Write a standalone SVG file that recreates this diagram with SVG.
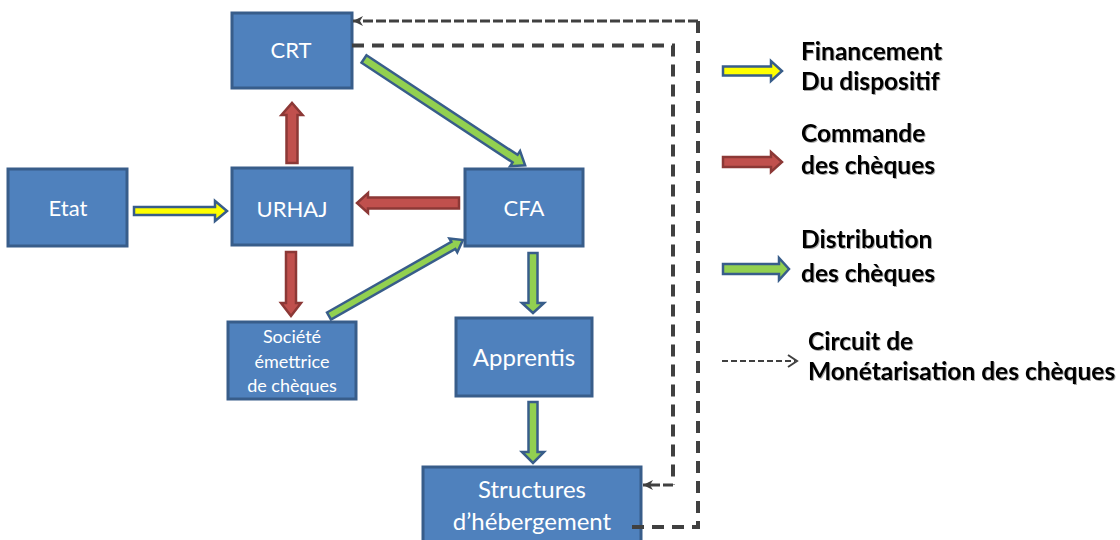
<svg xmlns="http://www.w3.org/2000/svg" width="1120" height="540" viewBox="0 0 1120 540">
<style>
.box{fill:#4F81BD;stroke:#385D8A;stroke-width:3}
.bt{fill:#fff;font-family:Lato,"Open Sans",sans-serif;text-anchor:middle}
.lg{fill:#000;font-family:Lato,"Open Sans",sans-serif;font-weight:bold;font-size:24.5px}
.ya{fill:#FFFF00;stroke:#385D8A;stroke-width:2.5;stroke-linejoin:miter}
.ra{fill:#C0504D;stroke:#8C3836;stroke-width:2.5}
.ga{fill:#92D050;stroke:#385D8A;stroke-width:2.5}
.dl{fill:none;stroke:#404040;stroke-width:4;stroke-dasharray:12 8}
.ds{fill:none;stroke:#404040;stroke-width:3;stroke-dasharray:10 3}
</style>
<defs>
<marker id="ah" markerUnits="userSpaceOnUse" markerWidth="12" markerHeight="12" refX="11" refY="6" orient="auto" viewBox="0 0 12 12">
<path d="M11,6 L1,1 L4,6 L1,11 Z" fill="#404040"/>
</marker>
<filter id="sh" x="-5%" y="-20%" width="110%" height="140%">
<feDropShadow dx="1" dy="1" stdDeviation="0.6" flood-color="#000" flood-opacity="0.35"/>
</filter>
</defs>

<g id="n-crt"><rect class="box" x="232" y="13" width="120" height="75"/><text class="bt" x="291" y="58" font-size="22">CRT</text></g>
<g id="n-etat"><rect class="box" x="8" y="169" width="119" height="77"/><text class="bt" x="68" y="216" font-size="22">Etat</text></g>
<g id="n-urhaj"><rect class="box" x="232" y="168" width="120" height="77"/><text class="bt" x="292" y="217" font-size="22">URHAJ</text></g>
<g id="n-cfa"><rect class="box" x="465" y="169" width="118" height="77"/><text class="bt" x="524" y="216" font-size="22">CFA</text></g>
<g id="n-societe"><rect class="box" x="228" y="322" width="128" height="77"/><text class="bt" x="292" font-size="18"><tspan x="292" y="343">Société</tspan><tspan x="292" y="368">émettrice</tspan><tspan x="292" y="392">de chèques</tspan></text></g>
<g id="n-apprentis"><rect class="box" x="456" y="318" width="136" height="78"/><text class="bt" x="524" y="366" font-size="24">Apprentis</text></g>
<g id="n-structures"><rect class="box" x="423" y="467" width="218" height="80"/><text class="bt" font-size="24"><tspan x="532" y="498">Structures</tspan><tspan x="532" y="530">d’hébergement</tspan></text></g>

<g id="connectors">
<!-- Etat -> URHAJ (financement) -->
<polygon class="ya" points="134,207 215,207 215,201 227,211 215,221 215,215 134,215"/>
<!-- URHAJ -> CRT -->
<polygon class="ra" points="286.5,163 286.5,115 281.5,115 292,103 302.5,115 297.5,115 297.5,163"/>
<!-- CFA -> URHAJ -->
<polygon class="ra" points="459,197.5 368,197.5 368,193 357,203 368,213 368,208.5 459,208.5"/>
<!-- URHAJ -> Société -->
<polygon class="ra" points="286,252 286,303 281,303 291,316 301,303 296,303 296,252"/>
<!-- CRT -> CFA -->
<g transform="translate(364,59) rotate(33.4)"><polygon class="ga" points="0,-4.5 181,-4.5 181,-9 193,0 181,9 181,4.5 0,4.5"/></g>
<!-- Société -> CFA -->
<g transform="translate(329,316) rotate(-29.6)"><polygon class="ga" points="0,-4 143,-4 143,-8 154,0 143,8 143,4 0,4"/></g>
<!-- CFA -> Apprentis -->
<polygon class="ga" points="528.5,253 528.5,303 522,303 533,313 544,303 537.5,303 537.5,253"/>
<!-- Apprentis -> Structures -->
<polygon class="ga" points="528.5,402 528.5,452 522,452 533,463 544,452 537.5,452 537.5,402"/>
<!-- Monetisation circuit: Structures -> CRT -->
<path class="dl" d="M632,527 H698 V21"/>
<path class="ds" d="M698,21 H353" marker-end="url(#ah)"/>
<!-- CRT -> Structures -->
<path class="dl" d="M352,45.5 H673 V485"/>
<path class="ds" d="M673,485 H643" marker-end="url(#ah)"/>
</g>

<g id="legend">
<polygon class="ya" points="723,66.5 771,66.5 771,61 782,71 771,81 771,75.5 723,75.5"/>
<text class="lg" filter="url(#sh)"><tspan x="801" y="60">Financement</tspan><tspan x="801" y="90">Du dispositif</tspan></text>
<polygon class="ra" points="723,157 771,157 771,152 782,162 771,172 771,167 723,167"/>
<text class="lg" filter="url(#sh)"><tspan x="801" y="142">Commande</tspan><tspan x="801" y="174">des chèques</tspan></text>
<polygon class="ga" points="723,264 779,264 779,258 789,269 779,280 779,274 723,274"/>
<text class="lg" filter="url(#sh)"><tspan x="801" y="248">Distribution</tspan><tspan x="801" y="282">des chèques</tspan></text>
<path d="M722,361 H795" fill="none" stroke="#404040" stroke-width="2" stroke-dasharray="6 3"/>
<path d="M788,355 L797,361 L788,367" fill="none" stroke="#404040" stroke-width="2"/>
<text class="lg" filter="url(#sh)"><tspan x="808" y="350">Circuit de</tspan><tspan x="808" y="380">Monétarisation des chèques</tspan></text>
</g>
</svg>
